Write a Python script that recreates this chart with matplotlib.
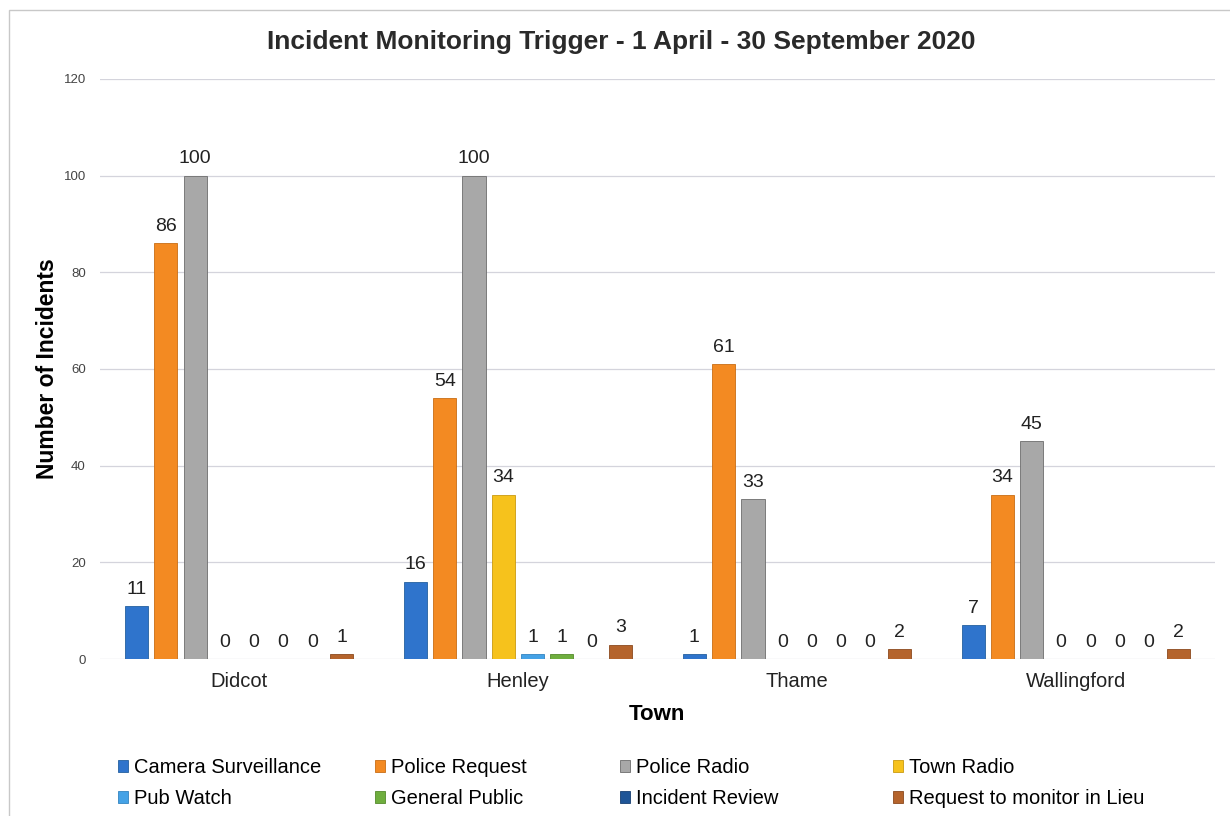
import numpy as np
import matplotlib.pyplot as plt
import matplotlib.patches as mpatches

# Incident counts per town, by trigger source
towns = ['Didcot', 'Henley', 'Thame', 'Wallingford']
series = ['Camera Surveillance', 'Police Request', 'Police Radio', 'Town Radio',
          'Pub Watch', 'General Public', 'Incident Review', 'Request to monitor in Lieu']
camera = [11, 16, 1, 7]
police_request = [86, 54, 61, 34]
police_radio = [100, 100, 33, 45]
town_radio = [0, 34, 0, 0]
pub_watch = [0, 1, 0, 0]
general_public = [0, 1, 0, 0]
incident_review = [0, 0, 0, 0]
request_lieu = [1, 3, 2, 2]
yticks = [0, 20, 40, 60, 80, 100, 120]

values = [camera, police_request, police_radio, town_radio,
          pub_watch, general_public, incident_review, request_lieu]
colors = ['#2f74cc', '#f38a22', '#a8a8a8', '#f6c21c',
          '#45a2e6', '#6fae3e', '#1f5597', '#b5642c']
edges = ['#24609f', '#c96d14', '#6d6d6d', '#c99a10',
         '#3384c0', '#548a2c', '#173f72', '#8c4a1e']

plt.rcParams['font.family'] = ['Liberation Sans', 'DejaVu Sans']

fig = plt.figure(figsize=(12.3, 8.16), dpi=100)
fig.patches.append(mpatches.Rectangle((0.007, -0.01), 1.0, 0.998, transform=fig.transFigure,
                                      fill=False, edgecolor='#c8c8c8', linewidth=1.0))
ax = fig.add_axes([0.081, 0.1924, 0.907, 0.7108])

x = np.arange(len(towns))
pitch = 0.105
width = 0.083
handles = []
for i, (name, vals) in enumerate(zip(series, values)):
    pos = x + (i - 3.5) * pitch
    bars = ax.bar(pos, vals, width, color=colors[i], edgecolor=edges[i],
                  linewidth=0.6, label=name, zorder=3)
    handles.append(bars)
    for px, v in zip(pos, vals):
        ax.annotate(str(v), (px, v), xytext=(0, 6), textcoords='offset points',
                    ha='center', va='bottom', fontsize=14, color='#222222')

ax.set_xlim(-0.5, 3.5)
ax.set_ylim(0, 120)
ax.set_yticks(yticks)
ax.set_yticklabels([str(t) for t in yticks], fontsize=9.5, color='#444444')
ax.set_xticks(x)
ax.set_xticklabels(towns, fontsize=14.5, color='#222222')
ax.tick_params(axis='both', length=0)
ax.tick_params(axis='y', pad=10)
ax.tick_params(axis='x', pad=9)
ax.grid(axis='y', color='#d4d4dc', linewidth=0.9, zorder=0)
for s in ax.spines.values():
    s.set_visible(False)

ax.set_ylabel('Number of Incidents', fontsize=16.5, fontweight='bold', labelpad=3)
ax.set_xlabel('Town', fontsize=16, fontweight='bold', labelpad=10)
fig.text(0.505, 0.948, 'Incident Monitoring Trigger - 1 April - 30 September 2020',
         ha='center', va='center', fontsize=19, fontweight='bold', color='#2a2a2a')

# legend laid out as four columns of two entries
col_x = [0.096, 0.305, 0.504, 0.726]
for c in range(4):
    pair = [handles[c], handles[c + 4]]
    fig.legend(pair, [series[c], series[c + 4]], loc='upper left',
               bbox_to_anchor=(col_x[c], 0.071), frameon=False, fontsize=14.5,
               handlelength=0.5, handleheight=0.5, handletextpad=0.3,
               labelspacing=0.6, borderaxespad=0, borderpad=0)

fig.savefig('out.png', dpi=100)
